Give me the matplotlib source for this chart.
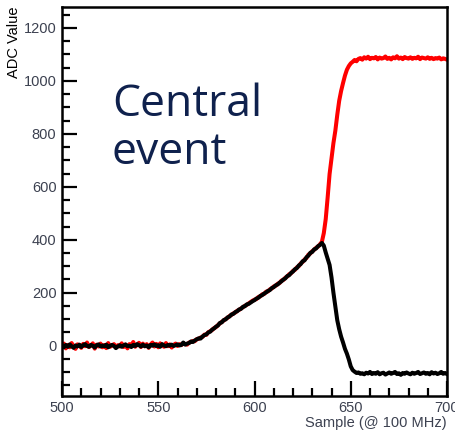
import matplotlib
matplotlib.use('Agg')
import matplotlib.pyplot as plt
import numpy as np
from matplotlib.ticker import MultipleLocator

# ADC traces, one value per sample starting at sample 500
red = [
    -4, 8, -10, 3, -6, 10, -3, -12, 5, 2,
    -8, 7, -2, 12, -5, 0, 9, -11, 4, -3,
    8, -6, 3, -9, 10, -4, 1, 6, -7, 2,
    -3, 9, -5, 4, -10, 6, 0, 14, -4, 3,
    11, -5, 8, -2, 6, -8, 4, 12, -3, 7,
    -6, 9, 1, -4, 10, -2, 5, -7, 3, 8,
    -1, 6, 2, 10, 6, 4, 12, 14, 18, 17,
    25, 26, 31, 33, 42, 41, 51, 55, 59, 67,
    70, 78, 84, 90, 95, 101, 105, 112, 116, 122,
    125, 132, 135, 141, 145, 151, 154, 160, 165, 170,
    174, 176, 184, 186, 194, 195, 204, 205, 213, 216,
    224, 226, 234, 236, 246, 248, 257, 261, 270, 273,
    283, 286, 296, 300, 311, 316, 326, 331, 344, 348,
    357, 362, 370, 374, 383, 392, 425, 478, 560, 648,
    705, 765, 812, 872, 925, 962, 992, 1020, 1042, 1056,
    1066, 1072, 1079, 1074, 1083, 1086, 1080, 1089, 1084, 1091,
    1082, 1087, 1085, 1090, 1081, 1088, 1084, 1086, 1092, 1083,
    1087, 1081, 1089, 1085, 1093, 1084, 1088, 1082, 1090, 1086,
    1084, 1089, 1083, 1087, 1085, 1091, 1082, 1088, 1086, 1084,
    1089, 1083, 1087, 1082, 1086, 1084, 1088, 1081, 1085, 1083,
    1080,
]
black = [
    2, -6, 3, -4, 5, -2, -8, 1, -3, 4,
    -5, 2, 6, -1, -4, 3, 0, -7, 2, 5,
    -3, 1, -2, 4, -6, 0, 3, -1, -9, -3,
    2, -4, 1, 5, -2, 0, -5, 3, -1, 6,
    2, -3, 4, -2, 1, -6, 3, 0, 5, -1,
    2, -4, 6, 1, -2, 3, 0, 4, -1, 2,
    5, 1, 3, 12, 4, 8, 10, 16, 14, 20,
    24, 28, 27, 35, 40, 43, 50, 53, 61, 65,
    72, 76, 86, 88, 97, 99, 107, 110, 118, 120,
    127, 130, 137, 139, 147, 149, 156, 158, 163, 168,
    172, 178, 181, 188, 191, 197, 201, 207, 210, 218,
    221, 228, 231, 238, 243, 250, 254, 263, 266, 275,
    280, 289, 293, 303, 308, 319, 322, 334, 340, 351,
    354, 364, 367, 376, 380, 388, 378, 352, 328, 305,
    258, 200, 148, 96, 62, 34, 12, -12, -30, -52,
    -78, -92, -98, -103, -101, -106, -104, -108, -102, -105,
    -99, -107, -103, -106, -100, -108, -104, -102, -109, -105,
    -101, -106, -103, -99, -107, -104, -110, -103, -106, -101,
    -105, -108, -102, -106, -103, -99, -107, -104, -101, -106,
    -103, -108, -100, -105, -102, -107, -104, -99, -106, -103,
    -107,
]
first_sample = 500

x_red = first_sample + np.arange(len(red))
x_black = first_sample + np.arange(len(black))

fig = plt.figure(figsize=(4.55, 4.32), dpi=100)
ax = fig.add_axes([62 / 455, 1 - 395.5 / 432, 385 / 455, 388.8 / 432])

ax.plot(x_red, red, color='#ff0000', lw=2.9)
ax.plot(x_black, black, color='black', lw=2.9)

ax.set_xlim(500, 700)
ax.set_ylim(-188, 1280)

ax.xaxis.set_major_locator(MultipleLocator(50))
ax.xaxis.set_minor_locator(MultipleLocator(10))
ax.yaxis.set_major_locator(MultipleLocator(200))
ax.yaxis.set_minor_locator(MultipleLocator(50))

lab_col = '#3c4150'
ax.tick_params(which='both', direction='in', top=False, right=False,
               width=1.6, colors='black', labelcolor=lab_col,
               labelfontfamily='Liberation Sans', labelsize=10.5)
ax.tick_params(which='major', length=11, pad=4)
ax.tick_params(which='minor', length=6)
for s in ax.spines.values():
    s.set_linewidth(1.8)

ax.set_ylabel('ADC Value', loc='top', family='Liberation Sans', fontsize=10.5,
              labelpad=2)
ax.set_xlabel('Sample (@ 100 MHz)', loc='right', family='Liberation Sans',
              fontsize=10.5, color=lab_col, labelpad=1)

fig.text(112 / 455, 1 - 116 / 432, 'Central', family='Open Sans',
         fontsize=32, color='#0f214d', va='baseline')
fig.text(112 / 455, 1 - 164 / 432, 'event', family='Open Sans',
         fontsize=32, color='#0f214d', va='baseline')

fig.savefig('out.png', dpi=100)
